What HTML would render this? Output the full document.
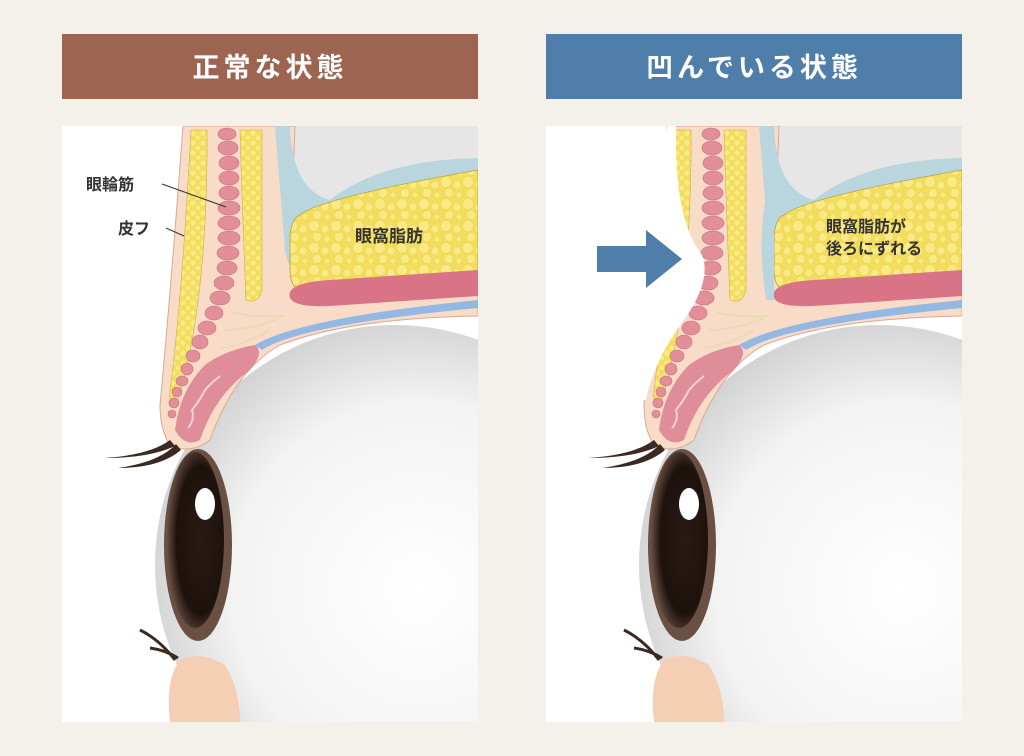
<!DOCTYPE html>
<html><head><meta charset="utf-8"><style>
html{margin:0;padding:0;height:756px;width:1024px;overflow:hidden;background:#f3f1ea;}
body{margin:0;padding:0;width:1024px;height:756px;overflow:hidden;background:#f3f1ea;font-family:"Liberation Sans","Noto Sans CJK JP",sans-serif;}
svg{display:block;position:absolute;left:0;top:0;}
</style></head><body>
<svg width="1024" height="756" viewBox="0 0 1024 756" xmlns="http://www.w3.org/2000/svg" style="font-family:'Liberation Sans','Noto Sans CJK JP',sans-serif">
<defs>
<pattern id="fatp" width="22" height="22" patternUnits="userSpaceOnUse">
<rect width="22" height="22" fill="#f3dd5c"/>
<circle cx="6" cy="6" r="5.5" fill="#f9ea88" stroke="#efd54e" stroke-width="0.6"/>
<circle cx="17" cy="9" r="4" fill="#f9ea88" stroke="#efd54e" stroke-width="0.6"/>
<circle cx="9" cy="17" r="4.5" fill="#f9ea88" stroke="#efd54e" stroke-width="0.6"/>
<circle cx="19" cy="19" r="3" fill="#f9ea88" stroke="#efd54e" stroke-width="0.6"/>
</pattern>
<pattern id="fats" width="10" height="10" patternUnits="userSpaceOnUse">
<rect width="10" height="10" fill="#f3dd5c"/>
<circle cx="3" cy="3" r="2.7" fill="#f9ea88"/>
<circle cx="8" cy="8" r="2.5" fill="#f9ea88"/>
</pattern>
<radialGradient id="eye" cx="0.55" cy="0.55" r="0.6">
<stop offset="0" stop-color="#ffffff"/><stop offset="0.65" stop-color="#f3f3f3"/><stop offset="1" stop-color="#cdcdcd"/>
</radialGradient>
<radialGradient id="iris" cx="0.6" cy="0.5" r="0.6">
<stop offset="0" stop-color="#2a1a14"/><stop offset="0.7" stop-color="#1e120d"/><stop offset="1" stop-color="#6e5446"/>
</radialGradient>
<clipPath id="pc"><rect x="62" y="126" width="416" height="596"/></clipPath>
<g id="art">
<rect x="62" y="126" width="416" height="596" fill="#ffffff"/>
<rect x="275" y="126" width="203" height="180" fill="#b9d6df"/>
<path d="M290 126 L478 126 L478 158 Q380 160 330 200 Q295 200 290 160 Z" fill="#e6e6e6"/>
<circle cx="395" cy="565" r="246" fill="#fff"/>
<circle cx="395" cy="565" r="240" fill="url(#eye)"/>
<path d="M183 126 L295 126 L290 255 Q292 290 330 296 L478 290 L478 316 Q350 318 280 345 Q235 370 210 440 Q190 455 170 445 Q160 430 160 405 Q170 300 183 126 Z" fill="#f9dcc8" stroke="#d9a893" stroke-width="1"/>
<path d="M275 126 L290 126 Q292 190 330 200 L330 300 Q292 290 285 250 Z" fill="#b9d6df"/>
<path d="M300 215 Q320 198 478 170 L478 272 L305 292 Q290 290 290 270 L290 235 Q292 218 300 215 Z" fill="url(#fatp)" stroke="#b9a23a" stroke-width="0.8"/>
<path d="M290 292 Q295 282 330 280 L478 270 L478 296 L330 306 Q285 308 290 292 Z" fill="#d97487"/>
<path d="M255 345 Q300 318 478 300 L478 308 Q300 325 262 350 Z" fill="#94b8e4"/>
<path d="M191 130 L207 130 Q208 300 178 400 Q168 408 170 390 Q182 300 191 130 Z" fill="url(#fats)" stroke="#c9b04a" stroke-width="0.6"/>
<path d="M240 130 L262 130 L262 290 Q258 305 246 300 Q242 200 240 130 Z" fill="url(#fats)" stroke="#c9b04a" stroke-width="0.6"/>
<path d="M232 312 Q255 318 285 316 M225 330 Q250 330 280 318 M220 348 Q245 345 270 330" stroke="#eadbb5" stroke-width="2" fill="none"/>
<path d="M175 430 Q180 390 205 365 Q225 350 255 345 Q265 352 250 370 Q215 395 200 440 Q185 448 175 430 Z" fill="#e08d9a"/>
<path d="M188 428 Q195 420 192 410 Q200 400 205 390 Q212 382 220 376" stroke="#f7d0d6" stroke-width="2" fill="none"/>
<g fill="#e28f99" stroke="#c56f7b" stroke-width="0.6">
<ellipse cx="227" cy="134" rx="9" ry="6"/><ellipse cx="228" cy="148" rx="10" ry="7"/><ellipse cx="229" cy="163" rx="10" ry="7"/><ellipse cx="229" cy="178" rx="10" ry="7"/><ellipse cx="229" cy="193" rx="10" ry="7"/><ellipse cx="229" cy="208" rx="11" ry="7"/><ellipse cx="229" cy="223" rx="11" ry="7"/><ellipse cx="229" cy="238" rx="11" ry="7"/><ellipse cx="228" cy="253" rx="11" ry="7"/><ellipse cx="227" cy="268" rx="10" ry="7"/><ellipse cx="224" cy="283" rx="10" ry="7"/><ellipse cx="220" cy="298" rx="10" ry="7"/><ellipse cx="214" cy="313" rx="9" ry="7"/><ellipse cx="207" cy="328" rx="9" ry="7"/><ellipse cx="200" cy="342" rx="8" ry="7"/><ellipse cx="193" cy="356" rx="7" ry="6"/><ellipse cx="187" cy="369" rx="6" ry="6"/><ellipse cx="182" cy="381" rx="6" ry="5"/><ellipse cx="177" cy="392" rx="5" ry="5"/><ellipse cx="174" cy="403" rx="5" ry="5"/><ellipse cx="172" cy="414" rx="4" ry="4"/>
</g>
<path d="M170 440 Q150 455 104 458 Q150 458 175 446 Z M176 444 Q160 462 118 468 Q160 468 181 450 Z" fill="#3a2a22"/>
<ellipse cx="198" cy="545" rx="34" ry="96" fill="#6a5043"/>
<ellipse cx="195" cy="540" rx="29" ry="88" fill="url(#iris)"/>
<ellipse cx="205" cy="504" rx="10" ry="16" fill="#fff"/>
<path d="M170 722 Q165 680 180 660 Q200 650 225 665 Q240 690 240 722 Z" fill="#f5cfb4"/>
<path d="M175 660 Q160 640 140 630 M178 658 Q165 650 150 648" stroke="#3a2a22" stroke-width="3" fill="none"/>
</g>
</defs>

<rect x="62" y="34" width="416" height="65" fill="#9d6452"/>
<text x="270" y="77" text-anchor="middle" fill="#fff" font-size="27" font-weight="bold" letter-spacing="4">正常な状態</text>
<rect x="546" y="34" width="416" height="65" fill="#4f7eab"/>
<text x="754" y="77" text-anchor="middle" fill="#fff" font-size="27" font-weight="bold" letter-spacing="4">凹んでいる状態</text>

<g clip-path="url(#pc)"><use href="#art"/></g>
<g transform="translate(484,0)" clip-path="url(#pc)"><use href="#art"/>
<path d="M183 126 L192 126 Q190 220 218 255 Q228 280 200 320 Q170 360 162 400 L150 400 Q155 300 183 126 Z" fill="#ffffff"/>
<path d="M290 170 L290 300 L282 300 Q270 220 290 170 Z" fill="#b9d6df"/>
</g>

<text x="86" y="190" font-size="16" font-weight="bold" fill="#333">眼輪筋</text>
<line x1="162" y1="184" x2="226" y2="207" stroke="#333" stroke-width="1"/>
<text x="118" y="234" font-size="16" font-weight="bold" fill="#333">皮フ</text>
<line x1="166" y1="228" x2="184" y2="236" stroke="#333" stroke-width="1"/>
<text x="355" y="242" font-size="17" font-weight="bold" fill="#333">眼窩脂肪</text>
<text x="826" y="232" font-size="16" font-weight="bold" fill="#333">眼窩脂肪が</text>
<text x="826" y="254" font-size="16" font-weight="bold" fill="#333">後ろにずれる</text>

<path d="M597 246 L646 246 L646 230 L682 259 L646 288 L646 272 L597 272 Z" fill="#4f7eab"/>
</svg>
</body></html>
